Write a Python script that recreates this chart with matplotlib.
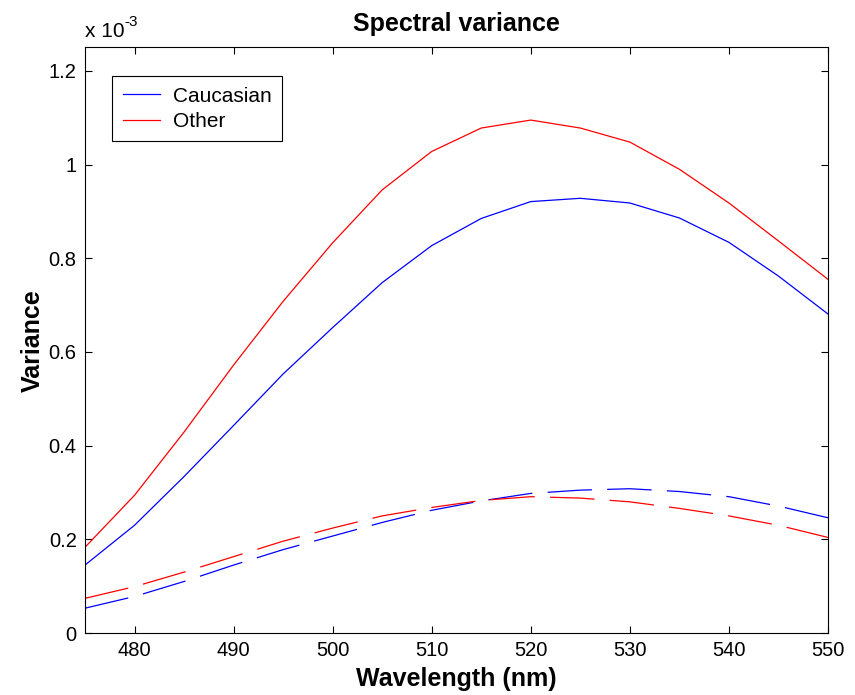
import matplotlib
matplotlib.use("Agg")
import matplotlib.pyplot as plt
from matplotlib.ticker import FuncFormatter, MultipleLocator
import numpy as np

plt.rcParams['font.family'] = ['Liberation Sans', 'DejaVu Sans']
plt.rcParams['lines.scale_dashes'] = False

# wavelengths (nm) and variances (x 1e-3)
wavelength = [475, 480, 485, 490, 495, 500, 505, 510, 515, 520, 525, 530, 535, 540, 545, 550]
cauc_solid = [0.145, 0.230, 0.334, 0.443, 0.553, 0.652, 0.748, 0.827, 0.885, 0.921, 0.928, 0.918, 0.886, 0.834, 0.762, 0.681]
other_solid = [0.183, 0.294, 0.429, 0.572, 0.708, 0.833, 0.946, 1.028, 1.078, 1.095, 1.078, 1.048, 0.990, 0.918, 0.837, 0.755]
cauc_dash = [0.053, 0.078, 0.110, 0.145, 0.178, 0.207, 0.236, 0.262, 0.282, 0.298, 0.305, 0.308, 0.302, 0.291, 0.271, 0.246]
other_dash = [0.074, 0.099, 0.130, 0.163, 0.196, 0.224, 0.250, 0.268, 0.283, 0.291, 0.288, 0.280, 0.266, 0.250, 0.230, 0.204]
scale = 1e-3

fig = plt.figure(figsize=(8.55, 6.95), dpi=100)
ax = fig.add_axes([0.0994, 0.0892, 0.869, 0.8425])

lw = 0.9
ax.plot(wavelength, np.array(cauc_solid) * scale, color='blue', lw=lw, label='Caucasian')
ax.plot(wavelength, np.array(other_solid) * scale, color='red', lw=lw, label='Other')
ax.plot(wavelength, np.array(cauc_dash) * scale, color='blue', lw=lw, dashes=(32, 11))
ax.plot(wavelength, np.array(other_dash) * scale, color='red', lw=lw, dashes=(32, 11))

ax.set_xlim(475, 550)
ax.set_ylim(0, 1.25e-3)
ax.xaxis.set_major_locator(MultipleLocator(10))
ax.yaxis.set_major_locator(MultipleLocator(0.2e-3))
ax.yaxis.set_major_formatter(FuncFormatter(lambda v, p: '%g' % round(v / scale, 6)))
ax.tick_params(direction='in', top=True, right=True, length=5, width=0.8, labelsize=14.5, pad=6)
for s in ax.spines.values():
    s.set_linewidth(0.8)

ax.set_xlabel('Wavelength (nm)', fontsize=18, fontweight='bold', labelpad=5)
ax.set_ylabel('Variance', fontsize=18, fontweight='bold', labelpad=3)
ax.set_title('Spectral variance', fontsize=18, fontweight='bold', pad=12)

# exponent label
fig.text(0.099, 0.947, 'x 10', fontsize=15, ha='left', va='baseline')
fig.text(0.146, 0.962, '-3', fontsize=11, ha='left', va='baseline')

leg = ax.legend(loc='upper left', bbox_to_anchor=(0.037, 0.951), fontsize=15,
                fancybox=False, framealpha=1, edgecolor='black', handlelength=1.8,
                borderpad=0.5, labelspacing=0.3, handletextpad=0.6, borderaxespad=0)
leg.get_frame().set_linewidth(0.8)

fig.savefig('out.png', dpi=100)
